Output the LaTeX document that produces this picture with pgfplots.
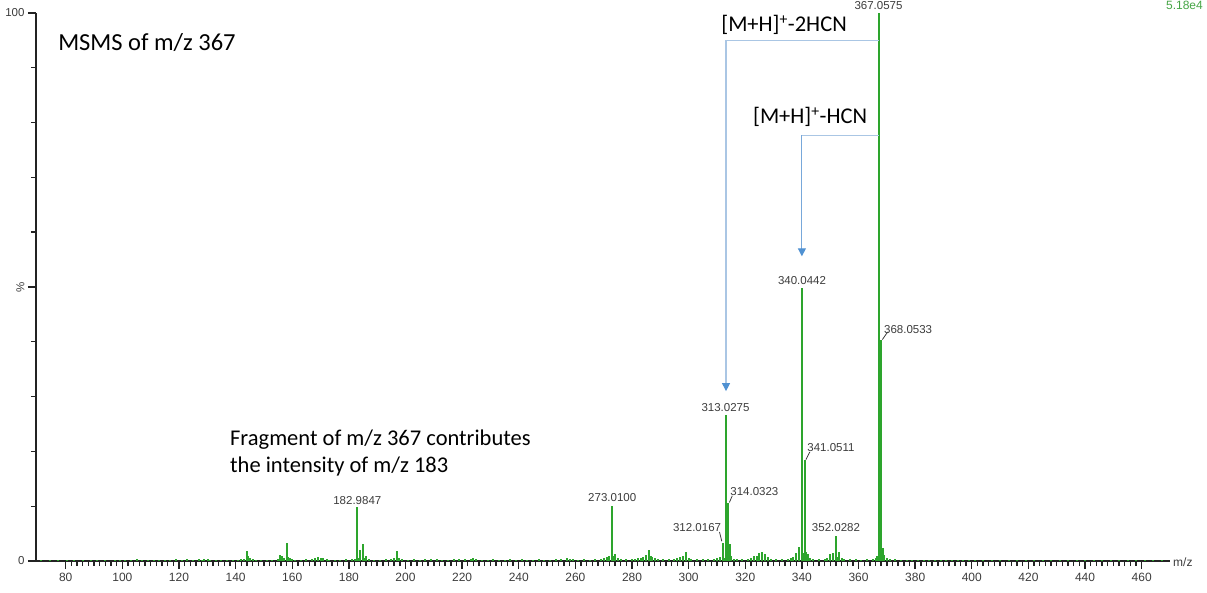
\documentclass[border=0pt]{standalone}
\usepackage{pgfplots}
\pgfplotsset{compat=1.18}
\usepackage{pgfplotstable}
\usepackage{fontspec}
\setmainfont{Liberation Sans}
\newfontfamily\calibri{Carlito}
\usetikzlibrary{arrows.meta}

\definecolor{specgreen}{RGB}{45,165,45}
\definecolor{axisgray}{RGB}{35,35,35}
\definecolor{labelgray}{RGB}{60,60,60}
\definecolor{bracketblue}{RGB}{170,198,228}
\definecolor{hcnblue}{RGB}{120,168,218}
\definecolor{arrowblue}{RGB}{80,145,210}
\definecolor{scalegreen}{RGB}{70,165,70}

% centroided MS/MS spectrum of m/z 367, relative intensity in %
\pgfplotstableread{
mz inten
71.2 0.1
74.5 0.15
77.1 0.1
80.3 0.15
83.0 0.1
86.2 0.2
89.0 0.1
91.1 0.15
94.0 0.1
97.3 0.2
99.0 0.1
101.1 0.15
103.0 0.2
105.2 0.35
107.0 0.2
109.1 0.15
111.0 0.2
113.0 0.15
115.1 0.25
117.0 0.2
119.0 0.3
121.1 0.2
123.0 0.4
125.0 0.25
126.9 0.3
128.1 0.2
129.0 0.4
130.1 0.35
131.0 0.2
133.0 0.15
135.0 0.2
137.1 0.15
139.0 0.2
141.0 0.25
142.0 0.3
143.0 0.4
143.9 1.8
144.4 0.9
145.0 0.5
146.0 0.3
147.1 0.2
149.0 0.2
151.0 0.15
153.0 0.2
154.9 0.4
155.8 1.1
156.5 1.0
157.0 0.6
158.0 3.3
158.6 0.7
159.1 0.5
160.0 0.3
161.0 0.2
163.0 0.2
165.0 0.3
166.9 0.3
168.0 0.6
169.0 0.7
170.0 0.5
171.0 0.6
172.1 0.3
173.0 0.2
175.0 0.2
177.0 0.15
179.0 0.3
181.0 0.35
182.0 0.4
182.9847 9.9
183.6 0.6
184.0 2.0
185.0 3.1
185.6 0.6
186.0 0.9
187.0 0.3
189.0 0.2
191.0 0.2
193.0 0.3
195.0 0.35
196.0 0.5
196.9 1.8
197.6 0.5
198.9 0.3
201.0 0.2
203.0 0.35
205.0 0.25
207.0 0.3
209.0 0.4
211.0 0.3
213.0 0.25
215.0 0.2
217.0 0.3
219.0 0.35
221.0 0.3
223.0 0.4
224.0 0.5
225.0 0.3
227.0 0.25
229.0 0.2
231.0 0.3
233.0 0.2
235.0 0.25
237.0 0.3
239.0 0.2
241.0 0.3
243.0 0.25
245.0 0.2
247.0 0.3
249.0 0.2
251.0 0.25
253.0 0.3
255.0 0.35
256.9 0.5
258.0 0.4
259.0 0.3
261.0 0.25
263.0 0.3
265.0 0.2
267.0 0.3
268.9 0.4
270.0 0.5
271.0 0.7
272.0 0.9
272.8 6.0
273.0100 10.0
273.6 1.0
274.0 1.3
275.0 0.5
276.0 0.3
278.0 0.3
279.9 0.3
281.0 0.4
282.0 0.5
283.0 0.6
284.0 0.7
285.0 1.1
286.0 2.0
286.6 1.0
287.0 0.7
288.0 0.5
289.0 0.3
291.0 0.3
293.0 0.3
295.0 0.4
296.0 0.5
297.0 0.8
298.0 1.0
299.0 1.7
300.0 0.6
301.0 0.4
303.0 0.3
305.0 0.3
307.0 0.4
308.9 0.4
310.0 0.6
311.0 0.8
312.0167 3.3
312.6 0.6
313.0275 26.6
313.3 4.4
314.0323 10.6
314.5 3.1
315.0 0.9
316.0 0.4
317.0 0.3
319.0 0.3
321.0 0.4
322.0 0.6
323.0 0.9
324.0 1.0
325.0 1.4
326.0 1.7
327.0 1.3
328.0 0.7
329.0 0.4
331.0 0.3
333.0 0.4
335.0 0.4
336.0 0.5
337.0 0.7
338.0 1.5
339.0 2.6
340.0442 49.8
340.6 1.5
341.0511 18.4
341.6 1.6
342.0 1.2
343.0 0.5
344.0 0.4
346.0 0.3
348.0 0.4
349.0 0.6
350.0 1.2
351.0 1.5
352.0282 4.6
352.6 0.8
353.0 1.7
354.0 0.5
355.0 0.3
357.0 0.3
359.0 0.3
361.0 0.2
363.0 0.3
365.0 0.4
366.0 0.6
366.6 0.9
367.0575 100
367.4 4.0
368.0533 40.3
368.6 2.4
369.0 1.1
370.0 0.5
371.0 0.4
373.0 0.3
375.0 0.2
377.0 0.2
379.0 0.15
381.0 0.2
383.0 0.15
385.0 0.2
387.0 0.1
389.0 0.15
391.0 0.2
393.0 0.1
395.0 0.15
397.0 0.1
399.0 0.2
401.0 0.1
404.0 0.15
407.0 0.1
410.0 0.15
413.0 0.1
416.0 0.15
419.0 0.1
422.0 0.15
425.0 0.1
428.0 0.1
431.0 0.15
434.0 0.1
437.0 0.1
440.0 0.15
443.0 0.1
446.0 0.1
449.0 0.1
452.0 0.15
455.0 0.1
458.0 0.1
461.0 0.1
464.0 0.1
467.0 0.1
}\spectrum

\begin{document}
\begin{tikzpicture}
\path[use as bounding box] (0,0) rectangle (1207pt,592pt);
\begin{axis}[
  at={(36pt,31pt)}, anchor=south west,
  scale only axis, width=1134pt, height=548pt,
  xmin=69.5, xmax=470, ymin=0, ymax=100,
  clip=false,
  axis x line*=bottom, axis y line*=left,
  axis line style={axisgray, line width=2.5pt, -},
  xtick={80,100,...,460}, minor x tick num=9,
  ytick={0,50,100}, yticklabels={0,\rotatebox{90}{\%},100},
  minor y tick num=4,
  tick align=outside,
  major tick length=8pt, minor tick length=5pt,
  every tick/.style={axisgray, line width=1.4pt},
  x tick label style={font=\fontsize{12}{14}\selectfont, text=labelgray, yshift=-1pt},
  y tick label style={font=\fontsize{11.5}{13}\selectfont, text=labelgray},
  /pgf/number format/assume math mode=true,
  /pgf/number format/1000 sep={},
]
\addplot[ycomb, specgreen, line width=2pt, no marks] table[x=mz, y=inten] {\spectrum};

% peak annotations
\begin{scope}[every node/.style={font=\fontsize{11.5}{13}\selectfont, text=labelgray, inner sep=0.8pt}]
\node[anchor=south] at (axis cs:367.0575,100.5) {367.0575};
\node[anchor=south] at (axis cs:340.0442,50.3) {340.0442};
\node[anchor=south] at (axis cs:313.0275,27.1) {313.0275};
\node[anchor=south] at (axis cs:273.0100,10.6) {273.0100};
\node[anchor=south] at (axis cs:352.0282,5.2) {352.0282};
\node[anchor=south] at (axis cs:182.9847,10.1) {182.9847};
\node[anchor=south west] at (axis cs:368.7,41.3) {368.0533};
\node[anchor=south west] at (axis cs:341.6,19.8) {341.0511};
\node[anchor=south west] at (axis cs:314.4,11.8) {314.0323};
\node[anchor=south east] at (axis cs:311.8,5.2) {312.0167};
\end{scope}
\draw[labelgray, line width=0.8pt] (axis cs:368.4,40.4) -- (axis cs:370.3,41.8);
\draw[labelgray, line width=0.8pt] (axis cs:341.4,18.5) -- (axis cs:342.8,19.9);
\draw[labelgray, line width=0.8pt] (axis cs:314.4,10.7) -- (axis cs:315.4,11.9);
\draw[labelgray, line width=0.8pt] (axis cs:310.9,5.3) -- (axis cs:311.7,3.6);

% neutral-loss brackets
\draw[bracketblue, line width=1.1pt, -{Triangle[length=8pt, width=8pt, color=arrowblue]}]
  (axis cs:367.0575,94.9) -- (axis cs:313.2,94.9) -- (axis cs:313.2,31.0);
\draw[bracketblue, line width=1.1pt] (axis cs:367.0575,77.6) -- (axis cs:340.0,77.6);
\draw[hcnblue, line width=1.1pt, -{Triangle[length=8pt, width=8pt, color=arrowblue]}]
  (axis cs:340.0,77.7) -- (axis cs:340.0,55.6);

\begin{scope}[every node/.style={font=\calibri, text=black, inner sep=0pt}]
\node[anchor=center, font=\calibri\fontsize{22.5}{26}\selectfont] at (axis cs:333.7,97.8) {[M+H]\textsuperscript{+}-2HCN};
\node[anchor=center, font=\calibri\fontsize{22.5}{26}\selectfont] at (axis cs:342.9,81.0) {[M+H]\textsuperscript{+}-HCN};
\node[anchor=west, font=\calibri\fontsize{24.5}{28}\selectfont] at (axis cs:77.3,94.7) {MSMS of m/z 367};
\node[anchor=west, font=\calibri\fontsize{22.5}{26}\selectfont] at (axis cs:138.0,22.1) {Fragment of m/z 367 contributes};
\node[anchor=west, font=\calibri\fontsize{22.5}{26}\selectfont] at (axis cs:138.0,17.2) {the intensity of m/z 183};
\end{scope}
\end{axis}
\node[anchor=west, font=\fontsize{12}{14}\selectfont, text=labelgray, inner sep=0pt] at (1173pt,30pt) {m/z};
\node[anchor=east, font=\fontsize{12}{14}\selectfont, text=scalegreen, inner sep=0pt] at (1203pt,587pt) {5.18e4};
\end{tikzpicture}
\end{document}
